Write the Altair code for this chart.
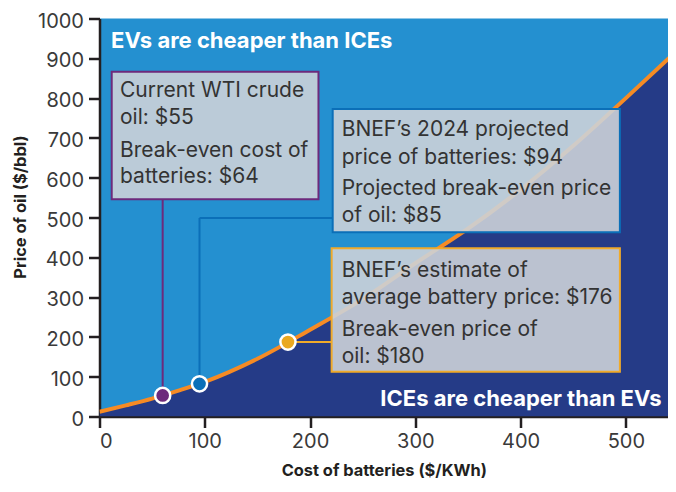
import altair as alt
import pandas as pd

# ---- data ----
curve_x = [0, 25, 50, 75, 100, 150, 200, 250, 300, 350, 400, 450, 500, 548]
curve_y = [12, 28, 45, 65, 87, 145, 218, 295, 385, 472, 570, 680, 800, 918]

point_x = [60, 95, 179]
point_y = [53, 82, 187]
point_color = ["#6d2a7c", "#0b6fb8", "#eaa820"]

# annotation boxes (data units)
box_left = [11.6, 221.5, 220.5]
box_right = [208, 494.3, 494.3]
box_top = [866, 772.6, 422.6]
box_bottom = [545.7, 462.8, 112.6]
box_border = ["#6d2a7c", "#0b6fb8", "#f0aa2a"]

box_text = [
    ["Current WTI crude", "oil: $55", "Break-even cost of", "batteries: $64"],
    ["BNEF\u2019s 2024 projected", "price of batteries: $94",
     "Projected break-even price", "of oil: $85"],
    ["BNEF\u2019s estimate of", "average battery price: $176",
     "Break-even price of", "oil: $180"],
]
text_x = [19.5, 230, 230]
text_y = [
    [802, 735, 652.8, 586],
    [704.8, 634.4, 556.5, 489.4],
    [351.3, 282.7, 202.3, 133.7],
]

# connector segments
seg_x = [60, 95, 95, 179]
seg_y = [53, 82, 498.7, 187]
seg_x2 = [60, 95, 221.5, 220.5]
seg_y2 = [545.7, 498.7, 498.7, 187]
seg_color = ["#6d2a7c", "#0b6fb8", "#0b6fb8", "#f0aa2a"]

# ---- tables ----
curve = pd.DataFrame({"x": curve_x, "y": curve_y})
pts = pd.DataFrame({"x": point_x, "y": point_y, "c": point_color})
boxes = pd.DataFrame({"x": box_left, "x2": box_right, "y": box_top,
                      "y2": box_bottom, "c": box_border})
rows = []
for i in range(3):
    for j in range(4):
        rows.append({"x": text_x[i], "y": text_y[i][j], "t": box_text[i][j]})
texts = pd.DataFrame(rows)
segs = pd.DataFrame({"x": seg_x, "y": seg_y, "x2": seg_x2, "y2": seg_y2, "c": seg_color})
labels = pd.DataFrame({"x": [11, 534], "y": [925, 26.4],
                       "t": ["EVs are cheaper than ICEs", "ICEs are cheaper than EVs"]})

FONT = "Inter"
DARK = "#231f20"
xs = alt.Scale(domain=[0, 540], nice=False, zero=False)
ys = alt.Scale(domain=[0, 1000], nice=False)

xaxis = alt.Axis(values=[0, 100, 200, 300, 400, 500], grid=False, format="d",
                 labelFont=FONT, labelFontSize=20, labelColor="#3a3a3a",
                 labelPadding=4, domainColor=DARK, domainWidth=2.5,
                 tickColor=DARK, tickWidth=2.5, tickSize=11,
                 titleFont=FONT, titleFontSize=16.4, titleFontWeight="bold",
                 titleColor=DARK, titlePadding=11)
yaxis = alt.Axis(values=list(range(0, 1001, 100)), grid=False, format="d",
                 labelFont=FONT, labelFontSize=20, labelColor="#3a3a3a",
                 labelPadding=5, labelOffset=2.5, domainColor=DARK, domainWidth=2.5,
                 tickColor=DARK, tickWidth=2.5, tickSize=11,
                 titleFont=FONT, titleFontSize=16.4, titleFontWeight="bold",
                 titleColor=DARK, titleAngle=270, titleAlign="center",
                 titleBaseline="middle", titleX=-79, titleY=188)

XT = "Cost of batteries ($/KWh)"
YT = "Price of oil ($/bbl)"


def X(f="x"):
    return alt.X(f, type="quantitative", scale=xs, axis=xaxis, title=XT)


def Y(f="y"):
    return alt.Y(f, type="quantitative", scale=ys, axis=yaxis, title=YT)


area = alt.Chart(curve).mark_area(color="#253b87", interpolate="monotone",
                                  clip=True).encode(x=X(), y=Y())
line = alt.Chart(curve).mark_line(color="#f68b24", strokeWidth=4,
                                  interpolate="monotone", clip=True).encode(x=X(), y=Y())

conn = alt.Chart(segs).mark_rule(strokeWidth=2).encode(
    x=X(), y=Y(), x2="x2", y2="y2", color=alt.Color("c:N", scale=None))

rects = alt.Chart(boxes).mark_rect(fill="#ccd2d8", fillOpacity=0.9, strokeWidth=2).encode(
    x=X(), x2="x2", y=Y(), y2="y2", stroke=alt.Stroke("c:N", scale=None))

btxt = alt.Chart(texts).mark_text(align="left", baseline="alphabetic", font=FONT,
                                  fontSize=21, color="#333333").encode(
    x=X(), y=Y(), text="t:N")

dots = alt.Chart(pts).mark_circle(size=230, opacity=1, stroke="white",
                                  strokeWidth=2.5).encode(
    x=X(), y=Y(), color=alt.Color("c:N", scale=None))

lab1 = alt.Chart(labels.iloc[[0]]).mark_text(
    align="left", baseline="alphabetic", font=FONT, fontSize=22,
    fontWeight="bold", color="white").encode(x=X(), y=Y(), text="t:N")
lab2 = alt.Chart(labels.iloc[[1]]).mark_text(
    align="right", baseline="alphabetic", font=FONT, fontSize=22,
    fontWeight="bold", color="white").encode(x=X(), y=Y(), text="t:N")

chart = alt.layer(area, line, conn, rects, btxt, dots, lab1, lab2).properties(
    width=568.5, height=398,
    padding={"left": 91.5, "top": 10.5, "right": 0, "bottom": 67},
    autosize=alt.AutoSizeParams(type="none"),
).configure_view(fill="#2490d0", stroke=None)

chart.save("out.html", embed_options={"renderer": "svg", "actions": False})
